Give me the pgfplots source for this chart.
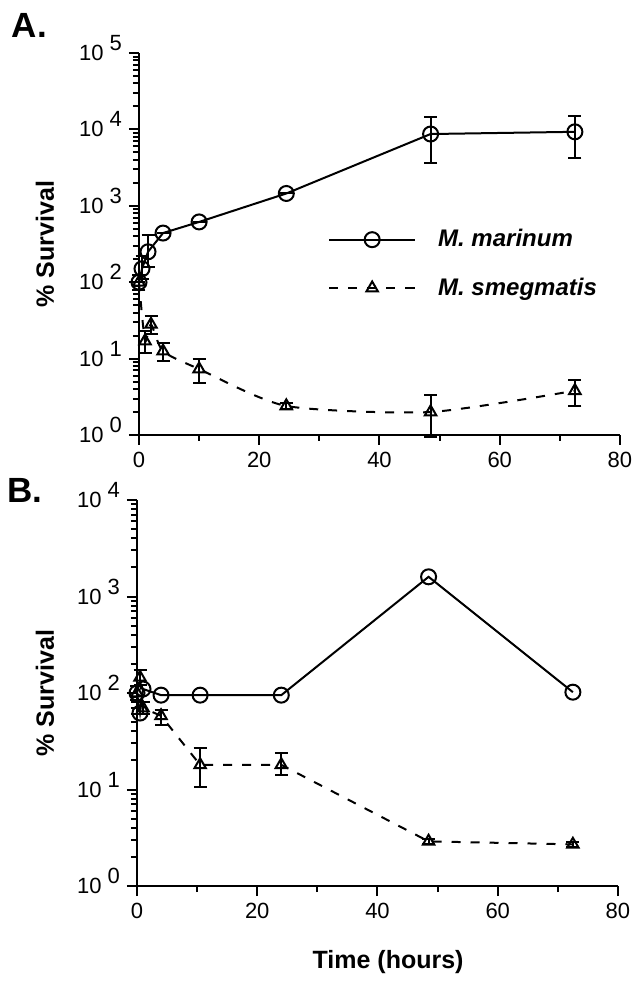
\documentclass[border=0pt]{standalone}
\usepackage{fontspec}
\setmainfont{Liberation Sans}
\usepackage{pgfplots}
\usepackage{pgfplotstable}
\pgfplotsset{compat=1.18}

% panel A
\pgfplotstableread{
t v ep em
0 100 0 0
0.5 150 70 40
1.5 250 165 90
4 440 0 0
10 615 0 0
24.5 1450 0 0
48.5 8700 5800 5060
72.5 9300 5700 5060
}\marA
\pgfplotstableread{
t v ep em
0 100 25 20
1 17 6 5
2 28 8 7
4 12.5 3.5 3.2
10 7.3 2.6 2.5
24.5 2.4 0.2 0.2
48.5 2.0 1.3 1.05
72.5 3.8 1.4 1.4
}\smeA
% panel B
\pgfplotstableread{
t v ep em
0 100 0 0
0.5 62 0 0
1 110 0 0
4 95 0 0
10.5 95 0 0
24 95 0 0
48.5 1600 0 0
72.5 102 0 0
}\marB
\pgfplotstableread{
t v ep em
0 100 18 15
0.5 145 27 23
1 70 10 10
4 58 8 11
10.5 18 9 7.4
24 18 6 4
48.5 2.9 0.2 0.2
72.5 2.7 0.15 0.15
}\smeB

\pgfplotsset{
  legend image code/.code={\draw[mark repeat=2, mark phase=2, #1] plot coordinates {(0pt,0pt) (21.5pt,0pt) (43pt,0pt)};},
}
\tikzset{
  mar/.style={black, line width=1pt, mark=o, mark size=3.75pt, mark options={solid, fill=white, line width=1pt}},
  sme/.style={black, line width=1pt, dash pattern=on 4.5pt off 5pt, mark=triangle, mark size=3.3pt, mark options={solid, fill=white, line width=1pt}},
}

\begin{document}
\begin{tikzpicture}
\begin{axis}[at={(0pt,0pt)}, anchor=south west,
  scale only axis, width=240.5pt, height=191pt,
  xmin=0, xmax=80,
  xtick={0,20,40,60,80}, minor xtick={10,30,50,70},
  ymode=log, ymin=1, ymax=100000,
  axis x line*=bottom, axis y line*=left,
  axis line style={-, line width=1.2pt},
  tick align=outside,
  major tick length=5pt, minor tick length=3pt,
  every tick/.style={black, line width=1pt},
  tick label style={font=\fontsize{11}{13}\selectfont},
  /pgf/number format/assume math mode=true,
  ylabel={\textbf{\% Survival}},
  ylabel style={font=\fontsize{12.5}{15}\selectfont, at={(axis description cs:0,0.5)}, anchor=center, yshift=47pt},
  clip=false,
  ytick={1,10,100,1000,10000,100000},
  yticklabels={10\hspace{3pt}\raisebox{5pt}[0pt][0pt]{0},10\hspace{3pt}\raisebox{5pt}[0pt][0pt]{1},10\hspace{3pt}\raisebox{5pt}[0pt][0pt]{2},10\hspace{3pt}\raisebox{5pt}[0pt][0pt]{3},10\hspace{3pt}\raisebox{5pt}[0pt][0pt]{4},10\hspace{3pt}\raisebox{5pt}[0pt][0pt]{5}},
  minor ytick={2,3,4,5,6,7,8,9,20,30,40,50,60,70,80,90,200,300,400,500,600,700,800,900,2000,3000,4000,5000,6000,7000,8000,9000,20000,30000,40000,50000,60000,70000,80000,90000},
  legend style={draw=none, fill=none, at={(0.38,0.56)}, anchor=north west,
    font=\fontsize{12}{14}\selectfont, row sep=10pt},
  legend cell align=left,
  error bars/error bar style={black, line width=1pt, solid},
  error bars/error mark options={black, mark size=3.25pt, line width=1pt, rotate=90},
]
\addplot[draw=none, mark=none, forget plot, error bars/y dir=both, error bars/y explicit] table[x=t, y=v, y error plus=ep, y error minus=em] {\marA};
\addplot[draw=none, mark=none, forget plot, error bars/y dir=both, error bars/y explicit] table[x=t, y=v, y error plus=ep, y error minus=em] {\smeA};
\addplot[mar] table[x=t, y=v] {\marA};
\addlegendentry{\hspace*{9pt}\textbf{\textit{M. marinum}}}
\addplot[sme, smooth, tension=0.4] table[x=t, y=v] {\smeA};
\addlegendentry{\hspace*{9pt}\textbf{\textit{M. smegmatis}}}
\end{axis}

\begin{axis}[at={(-1pt,-225.5pt)}, anchor=south west,
  scale only axis, width=240.5pt, height=193pt,
  xmin=0, xmax=80,
  xtick={0,20,40,60,80}, minor xtick={10,30,50,70},
  ymode=log, ymin=1, ymax=10000,
  axis x line*=bottom, axis y line*=left,
  axis line style={-, line width=1.2pt},
  tick align=outside,
  major tick length=5pt, minor tick length=3pt,
  every tick/.style={black, line width=1pt},
  tick label style={font=\fontsize{11}{13}\selectfont},
  /pgf/number format/assume math mode=true,
  ylabel={\textbf{\% Survival}},
  ylabel style={font=\fontsize{12.5}{15}\selectfont, at={(axis description cs:0,0.5)}, anchor=center, yshift=46pt},
  clip=false,
  ytick={1,10,100,1000,10000},
  yticklabels={10\hspace{3pt}\raisebox{5pt}[0pt][0pt]{0},10\hspace{3pt}\raisebox{5pt}[0pt][0pt]{1},10\hspace{3pt}\raisebox{5pt}[0pt][0pt]{2},10\hspace{3pt}\raisebox{5pt}[0pt][0pt]{3},10\hspace{3pt}\raisebox{5pt}[0pt][0pt]{4}},
  minor ytick={2,3,4,5,6,7,8,9,20,30,40,50,60,70,80,90,200,300,400,500,600,700,800,900,2000,3000,4000,5000,6000,7000,8000,9000},
  xlabel={\textbf{Time (hours)}},
  xlabel style={font=\fontsize{12.5}{15}\selectfont, at={(axis description cs:0.522,0)}, anchor=center, yshift=-38pt},
  error bars/error bar style={black, line width=1pt, solid},
  error bars/error mark options={black, mark size=3.25pt, line width=1pt, rotate=90},
]
\addplot[draw=none, mark=none, forget plot, error bars/y dir=both, error bars/y explicit] table[x=t, y=v, y error plus=ep, y error minus=em] {\smeB};
\addplot[mar] table[x=t, y=v] {\marB};
\addplot[sme] table[x=t, y=v] {\smeB};
\end{axis}

\node[font=\bfseries\fontsize{17.5}{20}\selectfont] at (-54.75pt,204.75pt) {A.};
\node[font=\bfseries\fontsize{17.5}{20}\selectfont] at (-57pt,-27.5pt) {B.};

\pgfresetboundingbox
\path[use as bounding box] (-69.5pt,-273.5pt) rectangle (246.5pt,217.5pt);
\end{tikzpicture}
\end{document}
